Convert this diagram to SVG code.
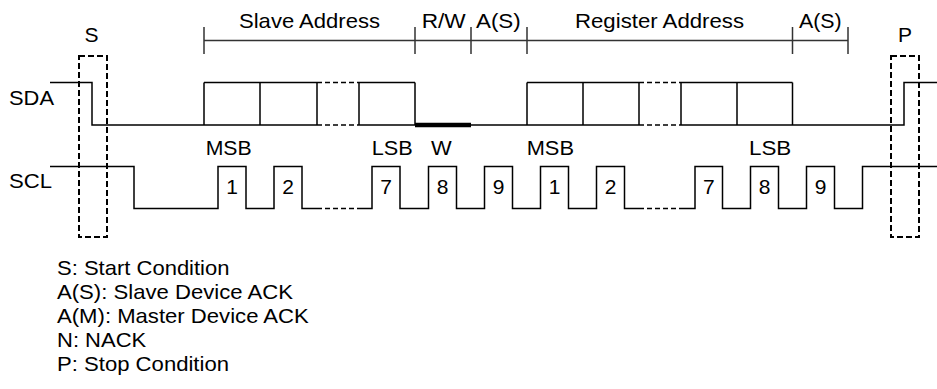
<svg xmlns="http://www.w3.org/2000/svg" width="937" height="389" viewBox="0 0 937 389">
<style>
text{font-family:"Liberation Sans",Arial,sans-serif;font-size:21px;fill:#000}
.c{text-anchor:middle}
.w{fill:none;stroke:#000;stroke-width:1.5}
.d{fill:none;stroke:#000;stroke-width:1.5;stroke-dasharray:5 3}
.box{fill:none;stroke:#000;stroke-width:2;stroke-dasharray:6 3}
.br{fill:none;stroke:#333;stroke-width:1.5}
.bold{fill:none;stroke:#000;stroke-width:4.5}
</style>
<rect width="937" height="389" fill="#fff"/>
<g id="brackets">
<path class="br" d="M204,40.5H848M204,27V54M415,27V54M471,27V54M527,27V54M792.5,27V54M848,27V54"/>
<text x="239" y="27.5" textLength="141" lengthAdjust="spacingAndGlyphs">Slave Address</text>
<text x="421.7" y="27.5" textLength="44" lengthAdjust="spacingAndGlyphs">R/W</text>
<text x="476" y="27.5" textLength="44.7" lengthAdjust="spacingAndGlyphs">A(S)</text>
<text x="575" y="27.5" textLength="169" lengthAdjust="spacingAndGlyphs">Register Address</text>
<text x="799" y="27.5" textLength="42.7" lengthAdjust="spacingAndGlyphs">A(S)</text>
</g>
<g id="start">
<text class="c" x="91.5" y="42">S</text>
<rect class="box" x="79" y="56" width="28" height="181"/>
</g>
<g id="stop">
<text class="c" x="905" y="42">P</text>
<rect class="box" x="891" y="56" width="28" height="181"/>
</g>
<g id="sda">
<text x="9" y="105" textLength="45" lengthAdjust="spacingAndGlyphs">SDA</text>
<path class="w" d="M50,82.5H92V125H317M359,125H415M471,125H639M681,125H904V82.5H937"/>
<path class="w" d="M204,82.5H317M359,82.5H415M204,82.5V125M260,82.5V125M317,82.5V125M359,82.5V125M415,82.5V125"/>
<path class="w" d="M527,82.5H639M681,82.5H792.5M527,82.5V125M583,82.5V125M639,82.5V125M681,82.5V125M737,82.5V125M792.5,82.5V125"/>
<path class="d" d="M317,82.5H359M317,125H359M639,82.5H681M639,125H681"/>
<path class="bold" d="M415,125H471"/>
</g>
<g id="bit-labels">
<text x="205.7" y="155" textLength="46" lengthAdjust="spacingAndGlyphs">MSB</text>
<text x="371.7" y="155" textLength="41" lengthAdjust="spacingAndGlyphs">LSB</text>
<text x="431" y="155" textLength="20.7" lengthAdjust="spacingAndGlyphs">W</text>
<text x="526.7" y="155" textLength="47.3" lengthAdjust="spacingAndGlyphs">MSB</text>
<text x="749" y="155" textLength="42.3" lengthAdjust="spacingAndGlyphs">LSB</text>
</g>
<g id="scl">
<text x="9" y="188" textLength="43" lengthAdjust="spacingAndGlyphs">SCL</text>
<path class="w" d="M50,166.5H134V208.5H218V166.5H246V208.5H274V166.5H302V208.5H317"/>
<path class="d" d="M317,208.5H359M639,208.5H681"/>
<path class="w" d="M359,208.5H372V166.5H400V208.5H428.5V166.5H456.5V208.5H484.5V166.5H512.5V208.5H540.5V166.5H568.5V208.5H596.5V166.5H624.5V208.5H639"/>
<path class="w" d="M681,208.5H695V166.5H722.5V208.5H750.5V166.5H778.5V208.5H806.5V166.5H834.5V208.5H862.5V166.5H937"/>
<text class="c" x="232" y="194">1</text>
<text class="c" x="288" y="194">2</text>
<text class="c" x="386" y="194">7</text>
<text class="c" x="442.5" y="194">8</text>
<text class="c" x="498.5" y="194">9</text>
<text class="c" x="554.5" y="194">1</text>
<text class="c" x="610.5" y="194">2</text>
<text class="c" x="708.8" y="194">7</text>
<text class="c" x="764.5" y="194">8</text>
<text class="c" x="820.5" y="194">9</text>
</g>
<g id="legend">
<text x="57" y="274.5" textLength="172.5" lengthAdjust="spacingAndGlyphs">S: Start Condition</text>
<text x="57" y="298.5" textLength="236" lengthAdjust="spacingAndGlyphs">A(S): Slave Device ACK</text>
<text x="57" y="322.75" textLength="251.8" lengthAdjust="spacingAndGlyphs">A(M): Master Device ACK</text>
<text x="57" y="347" textLength="89.2" lengthAdjust="spacingAndGlyphs">N: NACK</text>
<text x="57" y="371" textLength="172" lengthAdjust="spacingAndGlyphs">P: Stop Condition</text>
</g>
</svg>
